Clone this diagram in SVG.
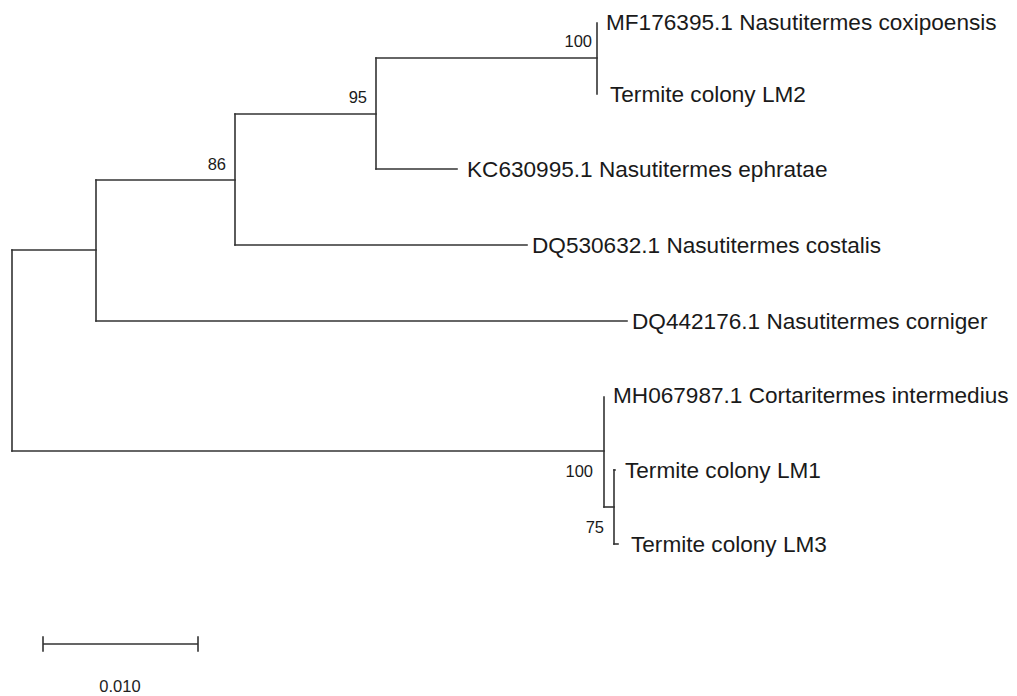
<svg xmlns="http://www.w3.org/2000/svg" width="1017" height="696" viewBox="0 0 1017 696">
<style>
.br{fill:none;stroke:#333;stroke-width:1.6;stroke-linecap:square}
.lf{font-family:"Liberation Sans",Arial,sans-serif;font-size:22.6px;fill:#1a1a1a}
.bs{font-family:"Liberation Sans",Arial,sans-serif;font-size:16.5px;fill:#1a1a1a;text-anchor:end}
.sc{font-family:"Liberation Sans",Arial,sans-serif;font-size:16.5px;fill:#222;text-anchor:middle}
</style>
<rect width="1017" height="696" fill="#fff"/>
<g id="connectors">
<path class="br" d="M12,250 V451"/>
<path class="br" d="M12,250 H96"/>
<path class="br" d="M12,451 H604"/>
<path class="br" d="M96,180 V321"/>
<path class="br" d="M96,180 H235"/>
<path class="br" d="M96,321 H627"/>
<path class="br" d="M235,114 V245"/>
<path class="br" d="M235,114 H376"/>
<path class="br" d="M235,245 H527"/>
<path class="br" d="M376,58 V169"/>
<path class="br" d="M376,58 H597"/>
<path class="br" d="M376,169 H457"/>
<path class="br" d="M597,23 V94"/>
<path class="br" d="M604,397 V507"/>
<path class="br" d="M604,507 H614"/>
<path class="br" d="M614,470 V544"/>
<path class="br" d="M614,470 H615"/>
<path class="br" d="M614,544 H618"/>
</g>
<g id="n-mf176395"><text class="lf" x="606" y="30">MF176395.1 Nasutitermes coxipoensis</text></g>
<g id="n-lm2"><text class="lf" x="610" y="102">Termite colony LM2</text></g>
<g id="n-kc630995"><text class="lf" x="467" y="177">KC630995.1 Nasutitermes ephratae</text></g>
<g id="n-dq530632"><text class="lf" x="532" y="253">DQ530632.1 Nasutitermes costalis</text></g>
<g id="n-dq442176"><text class="lf" x="632" y="329">DQ442176.1 Nasutitermes corniger</text></g>
<g id="n-mh067987"><text class="lf" x="613" y="403">MH067987.1 Cortaritermes intermedius</text></g>
<g id="n-lm1"><text class="lf" x="625" y="478">Termite colony LM1</text></g>
<g id="n-lm3"><text class="lf" x="631" y="552">Termite colony LM3</text></g>
<g id="bootstrap">
<text class="bs" x="592" y="47">100</text>
<text class="bs" x="367" y="103">95</text>
<text class="bs" x="226" y="170">86</text>
<text class="bs" x="593" y="477">100</text>
<text class="bs" x="604" y="533">75</text>
</g>
<g id="scale">
<path class="br" d="M43,644 H198 M43,637 V651 M198,637 V651"/>
<text class="sc" x="120" y="692">0.010</text>
</g>
</svg>
